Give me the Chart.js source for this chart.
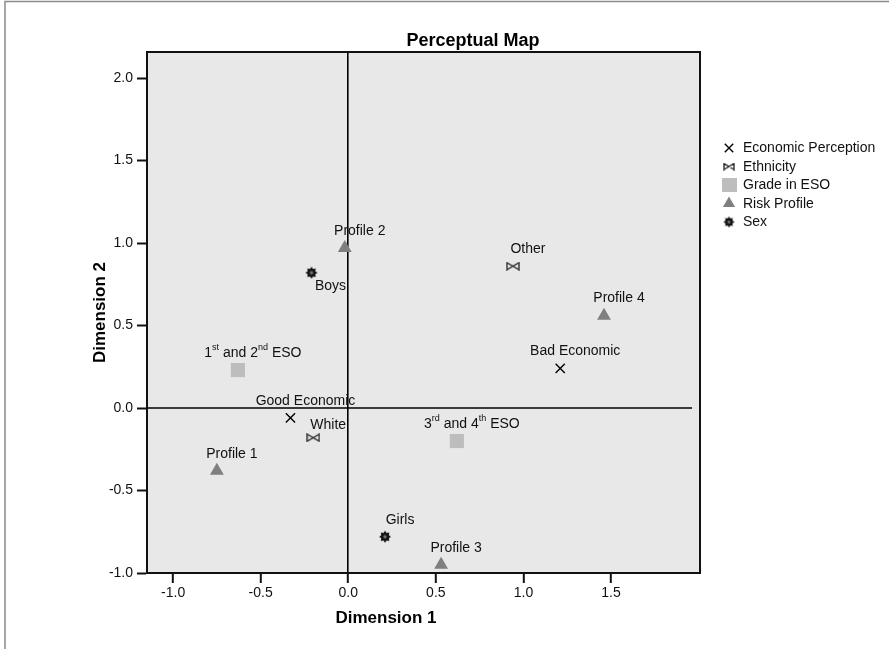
<!DOCTYPE html>
<html>
<head>
<meta charset="utf-8">
<script src="https://cdn.jsdelivr.net/npm/chart.js@4/dist/chart.umd.min.js"></script>
<style>
  html, body { margin: 0; padding: 0; background: #fff; }
  #wrap { width: 889px; height: 649px; position: relative; }
</style>
</head>
<body>
<div id="wrap"><canvas id="mapChart"></canvas></div>
<script>
// category points
const econLabels = ['Good Economic', 'Bad Economic'];
const econX = [-0.33, 1.21];
const econY = [-0.06, 0.24];

const ethLabels = ['White', 'Other'];
const ethX = [-0.20, 0.94];
const ethY = [-0.18, 0.86];

const gradeLabels = ['1st and 2nd ESO', '3rd and 4th ESO'];
const gradeX = [-0.63, 0.62];
const gradeY = [0.23, -0.20];

const riskLabels = ['Profile 1', 'Profile 2', 'Profile 3', 'Profile 4'];
const riskX = [-0.75, -0.02, 0.53, 1.46];
const riskY = [-0.38, 0.97, -0.95, 0.56];

const sexLabels = ['Boys', 'Girls'];
const sexX = [-0.21, 0.21];
const sexY = [0.82, -0.78];

const seriesNames = ['Economic Perception', 'Ethnicity', 'Grade in ESO', 'Risk Profile', 'Sex'];
const yTicks = [-1.0, -0.5, 0.0, 0.5, 1.0, 1.5, 2.0];
const xTicks = [-1.0, -0.5, 0.0, 0.5, 1.0, 1.5];

const FONT = 'Arial, "Liberation Sans", sans-serif';

function toPoints(xs, ys) {
    return xs.map((x, i) => ({ x: x, y: ys[i] }));
}

// small canvases used as point styles
function makeBowtie(w, h) {
    const c = document.createElement('canvas');
    c.width = w + 2; c.height = h + 2;
    const g = c.getContext('2d');
    g.strokeStyle = '#222';
    g.lineWidth = 1.3;
    g.beginPath();
    g.moveTo(1, 1); g.lineTo(w + 1, h + 1); g.lineTo(w + 1, 1); g.lineTo(1, h + 1);
    g.closePath();
    g.stroke();
    return c;
}

function makeGear(r) {
    const s = Math.ceil(r * 2 + 2);
    const c = document.createElement('canvas');
    c.width = s; c.height = s;
    const g = c.getContext('2d');
    const m = s / 2;
    g.fillStyle = '#111';
    g.beginPath();
    for (let i = 0; i < 16; i++) {
        const a = i * Math.PI / 8;
        const rr = i % 2 === 0 ? r : r * 0.68;
        g.lineTo(m + Math.cos(a) * rr, m + Math.sin(a) * rr);
    }
    g.closePath();
    g.fill();
    g.fillStyle = '#777';
    g.beginPath();
    g.arc(m, m, r * 0.28, 0, Math.PI * 2);
    g.fill();
    return c;
}

const bowtie = makeBowtie(12, 7);
const bowtieSmall = makeBowtie(10, 6);
const gear = makeGear(6);

const datasets = [
    { label: seriesNames[0], data: toPoints(econX, econY), names: econLabels,
      pointStyle: 'crossRot', pointRadius: 6.5, borderColor: '#000', borderWidth: 1.4, backgroundColor: '#000' },
    { label: seriesNames[1], data: toPoints(ethX, ethY), names: ethLabels,
      pointStyle: bowtie, pointRadius: 6, borderColor: '#222', backgroundColor: '#222' },
    { label: seriesNames[2], data: toPoints(gradeX, gradeY), names: gradeLabels,
      pointStyle: 'rect', pointRadius: 10, borderWidth: 0, borderColor: '#bdbdbd', backgroundColor: '#bdbdbd' },
    { label: seriesNames[3], data: toPoints(riskX, riskY), names: riskLabels,
      pointStyle: 'triangle', pointRadius: 8, borderWidth: 0, borderColor: '#7f7f7f', backgroundColor: '#7f7f7f' },
    { label: seriesNames[4], data: toPoints(sexX, sexY), names: sexLabels,
      pointStyle: gear, pointRadius: 6, borderColor: '#111', backgroundColor: '#111' }
];

// legend markers are a bit smaller than the plotted ones
const legendMarks = [
    { pointStyle: 'crossRot', radius: 6, borderWidth: 1.4 },
    { pointStyle: bowtieSmall, radius: 5 },
    { pointStyle: 'rect', radius: 11, borderWidth: 0 },
    { pointStyle: 'triangle', radius: 7, borderWidth: 0 },
    { pointStyle: makeGear(5.5), radius: 5 }
];

// text with ordinal suffixes raised (1st, 2nd, 3rd, 4th)
function drawRich(ctx, text, cx, cy, size) {
    const parts = [];
    const re = /(\d)(st|nd|rd|th)\b/g;
    let last = 0, m;
    while ((m = re.exec(text)) !== null) {
        parts.push({ t: text.slice(last, m.index + 1), sup: false });
        parts.push({ t: m[2], sup: true });
        last = m.index + m[0].length;
    }
    parts.push({ t: text.slice(last), sup: false });
    const big = size + 'px ' + FONT;
    const small = Math.round(size * 0.62) + 'px ' + FONT;
    let total = 0;
    parts.forEach(p => { ctx.font = p.sup ? small : big; p.w = ctx.measureText(p.t).width; total += p.w; });
    let x = cx - total / 2;
    ctx.textAlign = 'left';
    ctx.textBaseline = 'middle';
    parts.forEach(p => {
        ctx.font = p.sup ? small : big;
        ctx.fillText(p.t, x, p.sup ? cy - size * 0.38 : cy);
        x += p.w;
    });
}

const decor = {
    id: 'decor',
    beforeDraw(chart) {
        const ctx = chart.ctx, a = chart.chartArea;
        ctx.save();
        ctx.fillStyle = '#fff';
        ctx.fillRect(0, 0, chart.width, chart.height);
        ctx.fillStyle = '#e8e8e8';
        ctx.fillRect(a.left, a.top, a.right - a.left, a.bottom - a.top);
        ctx.restore();
    },
    beforeDatasetsDraw(chart) {
        // horizontal reference line at y = 0, stops a little short of the frame
        const ctx = chart.ctx, a = chart.chartArea;
        const y0 = chart.scales.y.getPixelForValue(0);
        ctx.save();
        ctx.strokeStyle = '#000';
        ctx.lineWidth = 1.6;
        ctx.beginPath();
        ctx.moveTo(a.left, y0);
        ctx.lineTo(a.right - 8, y0);
        ctx.stroke();
        ctx.restore();
    },
    afterDatasetsDraw(chart) {
        const ctx = chart.ctx;
        ctx.save();
        ctx.fillStyle = '#111';
        chart.data.datasets.forEach((ds, i) => {
            chart.getDatasetMeta(i).data.forEach((pt, j) => {
                const name = ds.names[j];
                // Boys label sits below the marker, the rest above-right
                const dx = name === 'Boys' ? 19 : 15;
                const dy = name === 'Boys' ? 13 : (name === 'White' ? -13 : -17);
                drawRich(ctx, name, pt.x + dx, pt.y + dy, 14);
            });
        });
        ctx.restore();
    },
    afterDraw(chart) {
        const ctx = chart.ctx, a = chart.chartArea;
        ctx.save();
        // plot frame
        ctx.strokeStyle = '#111';
        ctx.lineWidth = 2;
        ctx.strokeRect(a.left, a.top, a.right - a.left, a.bottom - a.top);
        // outer image border
        ctx.strokeStyle = '#8a8a8a';
        ctx.lineWidth = 1.5;
        ctx.beginPath();
        ctx.moveTo(5, chart.height);
        ctx.lineTo(5, 1.5);
        ctx.lineTo(chart.width, 1.5);
        ctx.stroke();
        // titles
        ctx.fillStyle = '#000';
        ctx.textAlign = 'center';
        ctx.textBaseline = 'middle';
        ctx.font = 'bold 18px ' + FONT;
        ctx.fillText('Perceptual Map', 473, 41);
        ctx.font = 'bold 17px ' + FONT;
        ctx.fillText('Dimension 1', 386, 618);
        ctx.save();
        ctx.translate(100, (a.top + a.bottom) / 2);
        ctx.rotate(-Math.PI / 2);
        ctx.fillText('Dimension 2', 0, 0);
        ctx.restore();
        // legend
        const lx = 729, ly = 148, step = 18.5;
        chart.data.datasets.forEach((ds, i) => {
            const y = ly + i * step;
            const mk = legendMarks[i];
            ctx.fillStyle = ds.backgroundColor;
            ctx.strokeStyle = ds.borderColor;
            ctx.lineWidth = mk.borderWidth || 1;
            if (mk.pointStyle === 'rect') {
                ctx.fillRect(lx - 7, y - 7, 15, 14);
            } else {
                Chart.helpers.drawPoint(ctx, { pointStyle: mk.pointStyle, radius: mk.radius, rotation: 0, borderWidth: mk.borderWidth || 0 }, lx, y);
            }
            ctx.fillStyle = '#111';
            ctx.font = '14px ' + FONT;
            ctx.textAlign = 'left';
            ctx.textBaseline = 'middle';
            ctx.fillText(ds.label, 743, y + 0.5);
        });
        ctx.restore();
    }
};

const zeroLine = c => (c.tick && c.tick.value === 0) ? '#000' : 'rgba(0,0,0,0)';

new Chart(document.getElementById('mapChart').getContext('2d'), {
    type: 'scatter',
    data: { datasets: datasets },
    options: {
        responsive: true,
        maintainAspectRatio: false,
        animation: false,
        layout: { padding: { left: 60, right: 189, top: 52, bottom: 10 } },
        plugins: { legend: { display: false }, title: { display: false }, tooltip: { enabled: false } },
        scales: {
            x: {
                type: 'linear', min: -1.149, max: 2.008,
                afterFit: s => { s.height = 66; },
                afterBuildTicks: s => { s.ticks = xTicks.map(v => ({ value: v })); },
                ticks: { stepSize: 0.5, includeBounds: false, padding: 2, color: '#111',
                         font: { family: FONT, size: 14 }, callback: v => Number(v).toFixed(1) },
                grid: { color: zeroLine, lineWidth: 1.6, tickColor: '#111', tickLength: 10, tickWidth: 2 },
                border: { display: true, color: '#111', width: 2 }
            },
            y: {
                type: 'linear', min: -1.0, max: 2.158,
                afterFit: s => { s.width = 87; },
                afterBuildTicks: s => { s.ticks = yTicks.map(v => ({ value: v })); },
                ticks: { stepSize: 0.5, includeBounds: false, padding: 4, color: '#111',
                         font: { family: FONT, size: 14 }, callback: v => Number(v).toFixed(1) },
                grid: { color: 'rgba(0,0,0,0)', tickColor: '#111', tickLength: 10, tickWidth: 2 },
                border: { display: true, color: '#111', width: 2 }
            }
        }
    },
    plugins: [decor]
});
</script>
</body>
</html>
